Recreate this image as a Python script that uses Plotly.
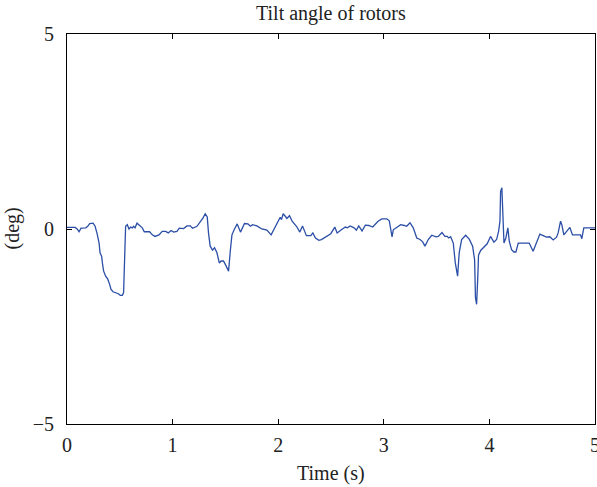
import plotly.graph_objects as go

time_s = [0.0, 0.077, 0.096, 0.114, 0.133, 0.177, 0.196, 0.215, 0.247, 0.266, 0.285, 0.304, 0.313, 0.328, 0.335, 0.347, 0.366, 0.385, 0.404, 0.417, 0.436, 0.461, 0.486, 0.505, 0.524, 0.536, 0.546, 0.555, 0.571, 0.587, 0.603, 0.619, 0.631, 0.644, 0.663, 0.688, 0.713, 0.732, 0.782, 0.808, 0.833, 0.871, 0.902, 0.934, 0.959, 0.985,
          1.009, 1.041, 1.063, 1.104, 1.136, 1.167, 1.189, 1.231, 1.262, 1.287, 1.309, 1.328, 1.340, 1.356, 1.378, 1.397, 1.420, 1.442, 1.460, 1.482, 1.505, 1.530, 1.546, 1.562, 1.586, 1.612, 1.643, 1.681, 1.713, 1.738, 1.757, 1.798, 1.845, 1.893, 1.933, 1.971,
          2.006, 2.019, 2.031, 2.047, 2.069, 2.082, 2.107, 2.132, 2.173, 2.205, 2.230, 2.267, 2.309, 2.328, 2.353, 2.385, 2.409, 2.457, 2.498, 2.536, 2.558, 2.598, 2.636, 2.655, 2.681, 2.719, 2.740, 2.763, 2.794, 2.825, 2.858, 2.895, 2.946,
          2.981, 3.028, 3.052, 3.066, 3.078, 3.090, 3.122, 3.160, 3.194, 3.217, 3.248, 3.279, 3.312, 3.343, 3.368, 3.390, 3.421, 3.454, 3.494, 3.516, 3.551, 3.579, 3.601, 3.614, 3.633, 3.658, 3.677, 3.699, 3.714, 3.737, 3.775, 3.809, 3.841, 3.860, 3.868, 3.879, 3.891, 3.897, 3.917, 3.948, 3.979,
          4.011, 4.043, 4.068, 4.087, 4.100, 4.106, 4.118, 4.125, 4.138, 4.156, 4.175, 4.188, 4.210, 4.232, 4.251, 4.273, 4.320, 4.377, 4.414, 4.447, 4.478, 4.509, 4.541, 4.572, 4.604, 4.636, 4.651, 4.674, 4.686, 4.705, 4.731, 4.762, 4.787, 4.825, 4.863, 4.875, 4.894, 5.0]

tilt_deg = [0.04, 0.04, 0.0, -0.07, 0.02, 0.03, 0.07, 0.14, 0.15, 0.07, -0.12, -0.36, -0.61, -0.70, -0.87, -1.08, -1.21, -1.28, -1.42, -1.55, -1.61, -1.63, -1.66, -1.70, -1.70, -1.63, -0.36, 0.07, 0.11, 0.0, 0.05, 0.03, 0.07, 0.03, 0.15, 0.09, 0.03, -0.07, -0.07, -0.15, -0.19, -0.15, -0.06, -0.06, -0.10, -0.04,
            -0.08, -0.06, 0.02, 0.01, 0.08, 0.08, 0.02, 0.07, 0.17, 0.28, 0.39, 0.31, -0.10, -0.44, -0.54, -0.48, -0.61, -0.87, -0.82, -0.82, -0.94, -1.08, -0.57, -0.15, 0.0, 0.13, -0.08, 0.14, 0.13, 0.07, 0.11, 0.08, 0.0, -0.03, -0.15, 0.05,
            0.24, 0.30, 0.24, 0.39, 0.32, 0.27, 0.34, 0.20, 0.07, -0.08, 0.08, -0.17, -0.17, -0.10, -0.23, -0.29, -0.27, -0.19, -0.12, 0.05, -0.10, -0.02, 0.05, 0.03, 0.08, 0.03, -0.03, 0.08, -0.05, 0.10, 0.09, 0.05, 0.20,
            0.26, 0.26, 0.21, 0.03, -0.20, -0.02, 0.03, 0.11, 0.09, 0.07, 0.16, 0.03, -0.23, -0.27, -0.33, -0.44, -0.27, -0.16, -0.20, -0.19, -0.09, -0.19, -0.19, -0.23, -0.20, -0.36, -0.87, -1.21, -0.61, -0.27, -0.16, -0.26, -0.44, -0.79, -1.76, -1.93, -1.17, -0.67, -0.55, -0.47, -0.38,
            -0.19, -0.34, -0.27, -0.06, 0.20, 0.96, 1.06, 0.54, -0.36, -0.23, 0.03, -0.31, -0.53, -0.59, -0.59, -0.36, -0.36, -0.36, -0.57, -0.34, -0.13, -0.17, -0.21, -0.20, -0.28, -0.21, -0.10, 0.20, 0.11, -0.15, -0.06, 0.04, -0.15, -0.15, -0.15, -0.25, 0.03, 0.03]

x_ticks = [0, 1, 2, 3, 4, 5]
y_ticks = [-5, 0, 5]

FONT = "Liberation Serif"
TXT = "#222222"

fig = go.Figure()
fig.add_trace(go.Scatter(x=time_s, y=tilt_deg, mode="lines",
                         line=dict(color="#2b4ea6", width=1.3), showlegend=False))

axis_common = dict(showgrid=False, zeroline=False, showline=True, linecolor="black", linewidth=1,
                   mirror="ticks", ticks="inside", ticklen=5, tickcolor="black", tickwidth=1,
                   automargin=False,
                   tickfont=dict(family=FONT, size=20, color=TXT))

fig.update_layout(
    template="none",
    width=597, height=487,
    margin=dict(l=67, r=2, t=34, b=63),
    paper_bgcolor="white", plot_bgcolor="white",
    xaxis=dict(range=[0, 5], tickvals=x_ticks, ticklabeloverflow="allow", ticklabelstandoff=3, **axis_common),
    yaxis=dict(range=[-5, 5], tickvals=y_ticks, ticklabelstandoff=8, **axis_common),
    annotations=[
        dict(text="Tilt angle of rotors", xref="paper", yref="paper", x=0.5, y=1, yshift=7,
             xanchor="center", yanchor="bottom", showarrow=False,
             font=dict(family=FONT, size=20, color=TXT)),
        dict(text="Time (s)", xref="paper", yref="paper", x=0.5, y=0, yshift=-36,
             xanchor="center", yanchor="top", showarrow=False,
             font=dict(family=FONT, size=20, color=TXT)),
        dict(text="(deg)", xref="paper", yref="paper", x=0, y=0.5, xshift=-42,
             xanchor="right", yanchor="middle", textangle=-90, showarrow=False,
             font=dict(family=FONT, size=20, color=TXT)),
    ],
)

fig.write_html("out.html")
